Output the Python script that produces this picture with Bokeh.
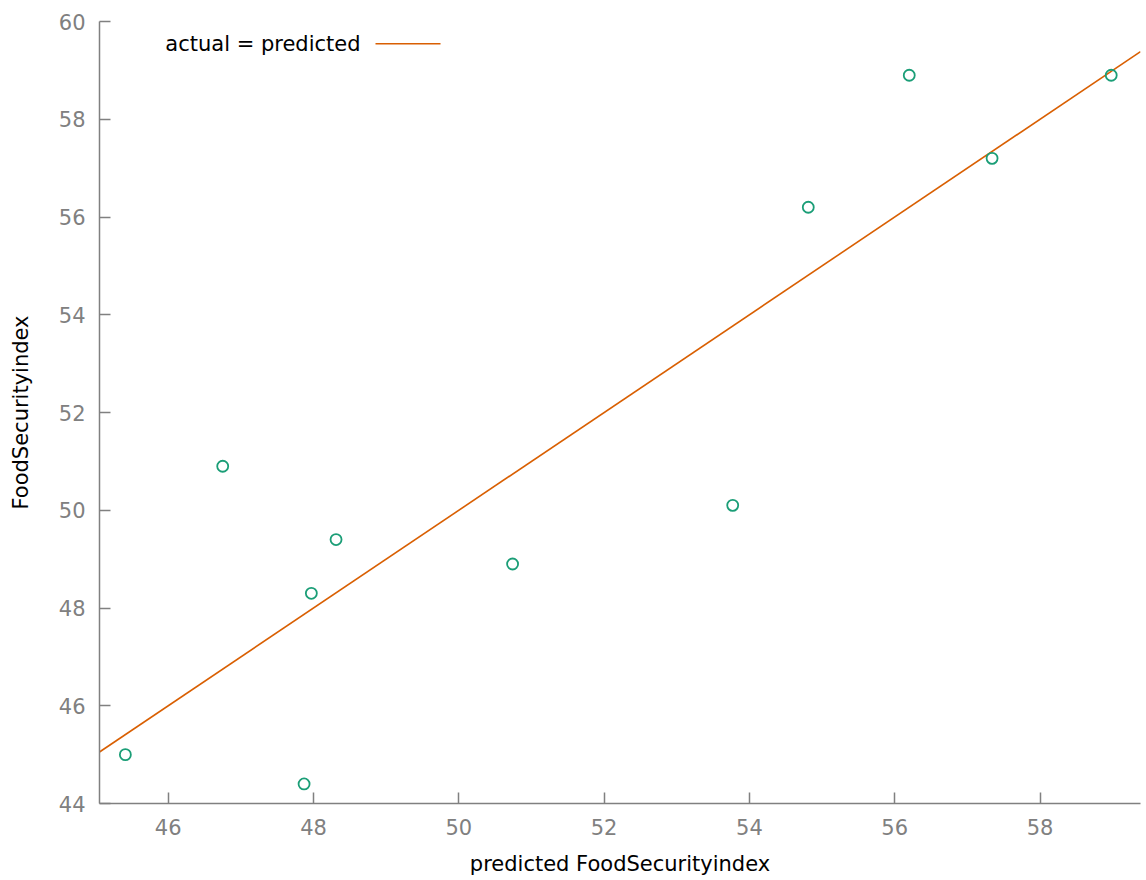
from bokeh.plotting import figure
from bokeh.models import FixedTicker, Label, BoxAnnotation
from bokeh.embed import file_html
from bokeh.resources import INLINE

# data
predicted = [45.41, 46.75, 47.87, 47.97, 48.31, 50.74, 53.77, 54.81, 56.20, 57.34, 58.98]
actual = [45.0, 50.9, 44.4, 48.3, 49.4, 48.9, 50.1, 56.2, 58.9, 57.2, 58.9]
x_ticks = [46, 48, 50, 52, 54, 56, 58]
y_ticks = [44, 46, 48, 50, 52, 54, 56, 58, 60]
x_limits = [45.054, 59.383]
y_limits = [44, 60]
identity_x = x_limits
identity_y = x_limits
legend_text = "actual = predicted"

FONT = "DejaVu Sans"
GRAY = "#808080"
GREEN = "#1b9e77"
ORANGE = "#d95f02"

p = figure(width=1146, height=880, output_backend="svg", toolbar_location=None,
           x_range=tuple(x_limits), y_range=tuple(y_limits),
           min_border_left=99, min_border_right=6, min_border_top=21, min_border_bottom=77)
p.outline_line_color = None
p.grid.visible = False
p.background_fill_color = "white"
p.border_fill_color = "white"

p.line(identity_x, identity_y, line_color=ORANGE, line_width=1.6)
p.scatter(predicted, actual, marker="circle", size=11, fill_color=None,
          line_color=GREEN, line_width=1.8)

for ax in (p.xaxis[0], p.yaxis[0]):
    ax.axis_line_color = GRAY
    ax.axis_line_width = 1.5
    ax.major_tick_line_color = GRAY
    ax.major_tick_line_width = 1.5
    ax.major_tick_in = 11
    ax.major_tick_out = 0
    ax.minor_tick_line_color = None
    ax.major_label_text_color = GRAY
    ax.major_label_text_font = FONT
    ax.major_label_text_font_size = "21px"
    ax.axis_label_text_font = FONT
    ax.axis_label_text_font_size = "21px"
    ax.axis_label_text_font_style = "normal"
    ax.axis_label_text_color = "black"
    ax.major_label_standoff = 14

p.xaxis[0].ticker = FixedTicker(ticks=x_ticks)
p.yaxis[0].ticker = FixedTicker(ticks=y_ticks)
p.xaxis[0].axis_label = "predicted FoodSecurityindex"
p.yaxis[0].axis_label = "FoodSecurityindex"
p.xaxis[0].major_label_standoff = 15
p.xaxis[0].axis_label_standoff = 14
p.yaxis[0].axis_label_standoff = 23
p.yaxis[0].major_label_orientation = "horizontal"

# legend (gnuplot style: text, then line sample)
p.add_layout(Label(x=45.96, y=59.53, text=legend_text, text_font=FONT,
                   text_font_size="21px", text_color="black", text_baseline="alphabetic"))
p.add_layout(BoxAnnotation(left=48.853, right=49.748, bottom=59.53, top=59.56,
                           fill_color=ORANGE, fill_alpha=1.0, line_color=None))

open("out.html", "w").write(file_html(p, INLINE))
